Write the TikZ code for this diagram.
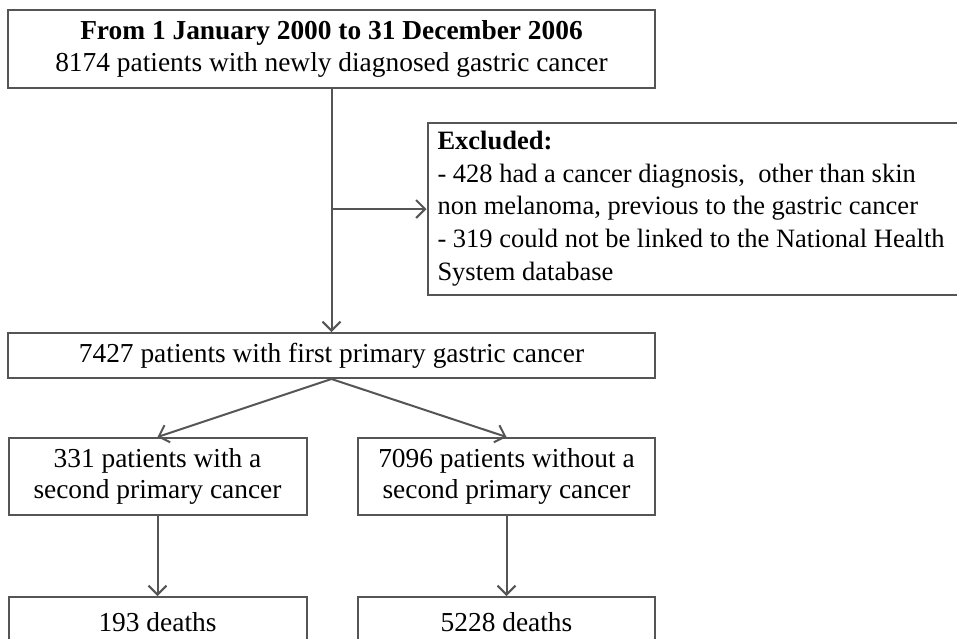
\documentclass[tikz,border=0pt]{standalone}
\usepackage{fontspec}
\setmainfont{Liberation Serif}
\usetikzlibrary{arrows.meta,positioning}
\usetikzlibrary{calc}

\definecolor{linegray}{RGB}{85,85,85}

\tikzset{
  box/.style={draw=linegray, line width=2pt, inner sep=0pt, align=center,
    font=\fontsize{27.4}{31.5}\selectfont},
  flow/.style={draw=linegray, line width=2pt,
    -{Straight Barb[length=9pt,width=18pt,line width=2pt]}}
}

\begin{document}
\begin{tikzpicture}[x=1pt,y=-1pt]
\useasboundingbox (0,0) rectangle (957,638);
\clip (0,0) rectangle (957,638);
\fill[white] (0,0) rectangle (957,638);
\node[box, minimum width=647pt, minimum height=78pt] (cohort) at (331.5,49)
  {\textbf{From 1 January 2000 to 31 December 2006}\\8174 patients with newly diagnosed gastric cancer};
\node[box, minimum width=560pt, minimum height=172pt, text width=540pt, align=flush left,
  font=\fontsize{26.5}{32.7}\selectfont] (excluded) at (707.5,208.5)
  {\textbf{Excluded:}\\- 428 had a cancer diagnosis,\enspace other than skin\\non melanoma, previous to the gastric cancer\\- 319 could not be linked to the National Health\\System database};
\node[box, minimum width=647pt, minimum height=45pt] (first) at (331.5,355.5)
  {7427 patients with first primary gastric cancer};
\node[box, minimum width=298pt, minimum height=77pt] (withsec) at (157.5,476.5)
  {331 patients with a\\second primary cancer};
\node[box, minimum width=297pt, minimum height=77pt] (nosec) at (506.5,476.5)
  {7096 patients without a\\second primary cancer};
\node[box, minimum width=298pt, minimum height=50pt] (deathsa) at (157.5,622)
  {193 deaths};
\node[box, minimum width=297pt, minimum height=50pt] (deathsb) at (506.5,622)
  {5228 deaths};
% connectors
\coordinate (split) at (cohort.south |- 0,209);
\draw[flow] (cohort.south) -- (first.north);
\draw[flow] (split) -- (excluded.west |- split);
\draw[flow] (first.south) -- (withsec.north);
\draw[flow] (first.south) -- (nosec.north);
\draw[flow] (withsec.south) -- (deathsa.north);
\draw[flow] (nosec.south) -- (deathsb.north);
\end{tikzpicture}
\end{document}
